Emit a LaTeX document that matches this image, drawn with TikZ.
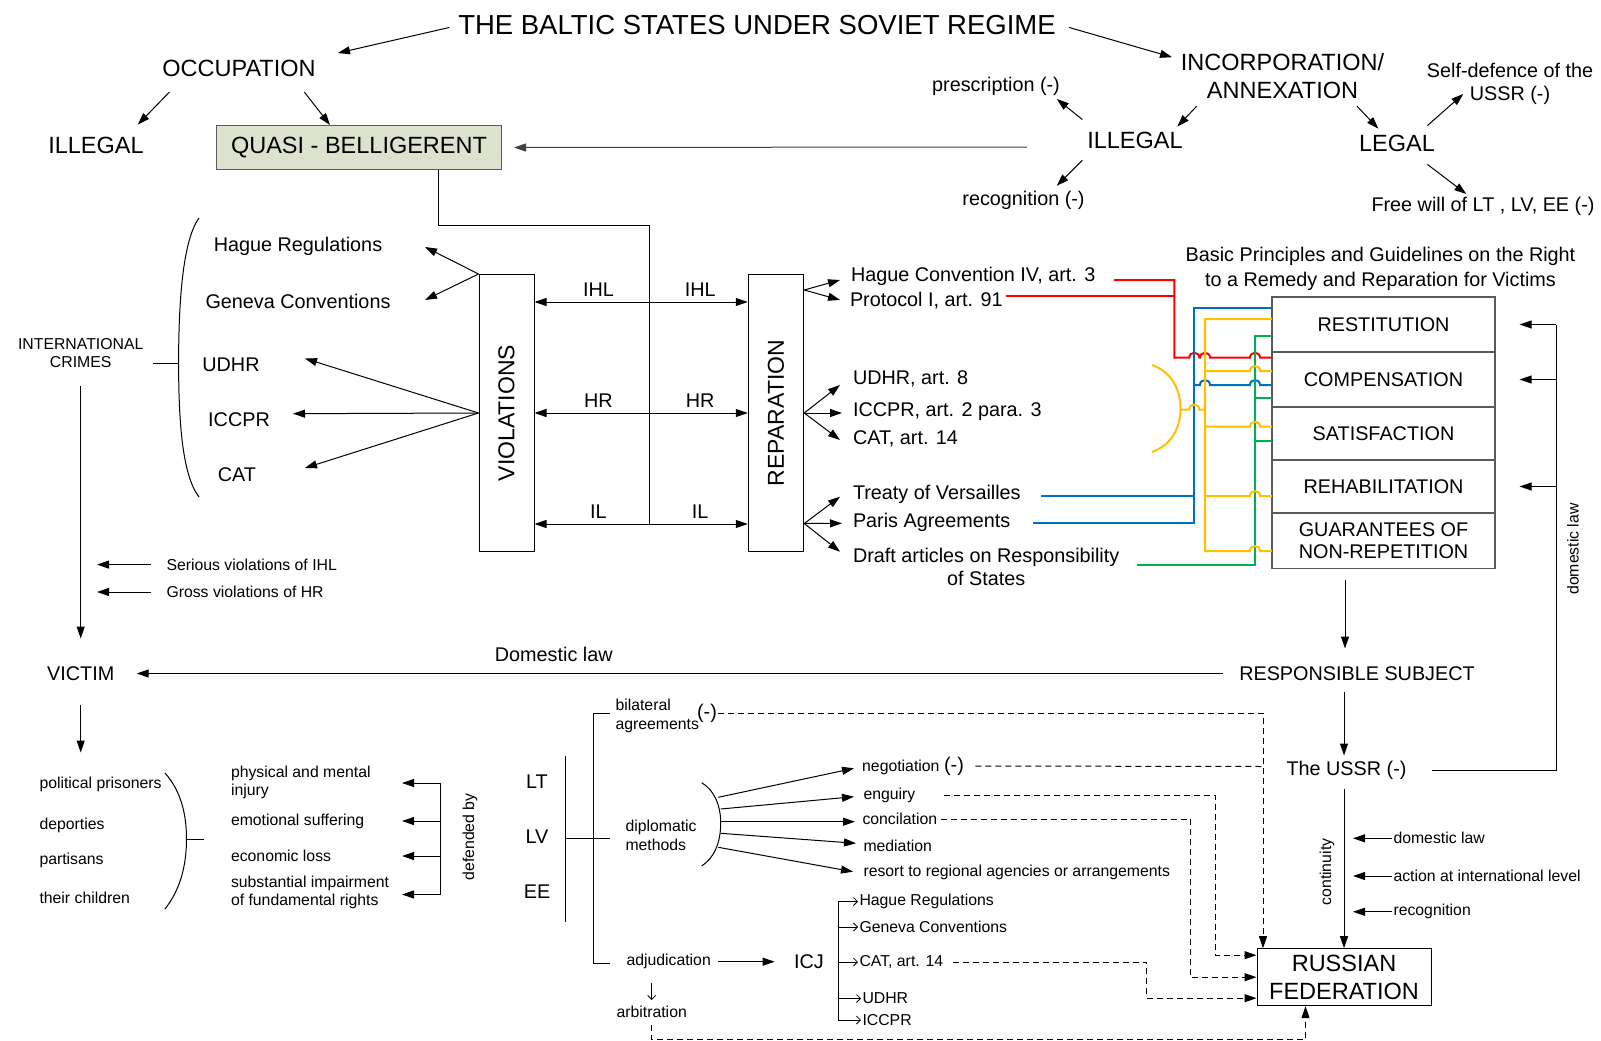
\documentclass[tikz,border=0pt]{standalone}
\usepackage{fontspec}
\setmainfont{Liberation Sans}
\usepackage{tikz}
\usetikzlibrary{arrows.meta}
\definecolor{wirered}{RGB}{255,0,0}
\definecolor{wireblue}{RGB}{0,112,192}
\definecolor{wireyellow}{RGB}{255,192,0}
\definecolor{wiregreen}{RGB}{0,176,80}
\definecolor{quasifill}{RGB}{221,226,207}
\definecolor{boxgray}{RGB}{90,90,90}
\newcommand\ftitle{\fontsize{27.5}{32}\selectfont}
\newcommand\fbig{\fontsize{23.5}{28}\selectfont}
\newcommand\fmid{\fontsize{19.8}{23}\selectfont}
\newcommand\fsml{\fontsize{15.8}{18.5}\selectfont}
% little jump of a wire over a crossing one
\newcommand\hop[2]{-- (#1-5,#2) .. controls (#1-5,#2-6.5) and (#1+5,#2-6.5) .. (#1+5,#2)}

\begin{document}
\begin{tikzpicture}[x=1pt, y=-1pt, line width=1pt,
  every node/.style={inner sep=1pt},
  bigtxt/.style={font=\fbig, align=center},
  midtxt/.style={font=\fmid, align=center},
  smltxt/.style={font=\fsml, align=left},
  arr/.style={-{Triangle[length=12pt,width=8pt]}},
  darr/.style={{Triangle[length=12pt,width=8pt]}-{Triangle[length=12pt,width=8pt]}},
  tarr/.style={-{Straight Barb[length=4pt,width=8pt]}, line width=0.8pt},
  dsh/.style={dash pattern=on 6pt off 4pt},
  wire/.style={line width=2pt},
  cell/.style={draw=boxgray, line width=1.2pt, minimum width=223pt, font=\fmid, align=center, inner sep=0pt},
  vbox/.style={draw, inner sep=0pt, minimum width=55.5pt, minimum height=277pt}
]
\fill[white] (0,0) rectangle (1601,1041);
\useasboundingbox (0,0) rectangle (1601,1041);

% top
\node[font=\ftitle] (title) at (757,25.5) {THE BALTIC STATES UNDER SOVIET REGIME};
\node[bigtxt] (occ) at (239,68) {OCCUPATION};
\node[bigtxt] (illo) at (96,145) {ILLEGAL};
\node[bigtxt, draw=boxgray, fill=quasifill, minimum width=285pt, minimum height=44pt] (quasi) at (359,147.5) {QUASI - BELLIGERENT};
\node[bigtxt] (incorp) at (1282.5,76.5) {INCORPORATION/\\ANNEXATION};
\node[bigtxt] (illi) at (1135,140.5) {ILLEGAL};
\node[bigtxt] (legal) at (1397,143) {LEGAL};
\node[midtxt] (presc) at (996,86) {prescription (-)};
\node[midtxt] (recog) at (1023.5,200) {recognition (-)};
\node[midtxt] (selfdef) at (1510,84) {Self-defence of the\\USSR (-)};
\node[midtxt] (freewill) at (1483,206) {Free will of LT , LV, EE (-)};

\draw[arr] ([shift={(-7.5,2)}]title.west) -- ([shift={(99,-15)}]occ.center);
\draw[arr] ([shift={(12,2)}]title.east) -- ([shift={(-110.5,-19.3)}]incorp.center);
\draw[arr] ([shift={(-69.5,24)}]occ.center) -- ([shift={(41.8,-20.4)}]illo.center);
\draw[arr] ([shift={(65.3,24)}]occ.center) -- ([xshift=-29pt]quasi.north);
\draw[arr] ([shift={(-85.8,29.7)}]incorp.center) -- ([shift={(42.3,-13.9)}]illi.center);
\draw[arr] ([shift={(74.5,29.7)}]incorp.center) -- ([shift={(-18.6,-14.3)}]legal.center);
\draw[arr] ([shift={(-52.7,-21)}]illi.center) -- ([shift={(60.8,13)}]presc.center);
\draw[arr] ([shift={(-52.7,19.8)}]illi.center) -- ([shift={(33.3,-14.2)}]recog.center);
\draw[arr] ([shift={(30.4,-17.4)}]legal.center) -- ([shift={(-46.8,10)}]selfdef.center);
\draw[arr] ([shift={(30.4,21.4)}]legal.center) -- ([shift={(-16.7,-12)}]freewill.center);
\draw[arr, black!75] ([shift={(-108,6.5)}]illi.center) -- ([xshift=12pt]quasi.east);

% violations and reparation
\node[vbox, minimum width=55pt] (viol) at (506.5,413) {};
\node[rotate=90, font=\fontsize{23}{26}\selectfont] (violt) at (viol) {VIOLATIONS};
\node[vbox] (rep) at (776,413) {};
\node[rotate=90, font=\fontsize{23}{26}\selectfont] (rept) at (rep) {REPARATION};

\coordinate (qbend) at (649,225);
\coordinate (qend) at (649,524);
\draw ([xshift=79pt]quasi.south) |- (qbend) -- (qend);

\draw[darr] ([yshift=111pt]viol.east) -- ([yshift=111pt]rep.west)
  node[pos=.3, above=4.5pt, midtxt] (ihl1) {IHL} node[pos=.777, above=4.5pt, midtxt] (ihl2) {IHL};
\draw[darr] (viol.east) -- (rep.west)
  node[pos=.3, above=4.5pt, midtxt] (hr1) {HR} node[pos=.777, above=4.5pt, midtxt] (hr2) {HR};
\draw[darr] ([yshift=-111pt]viol.east) -- ([yshift=-111pt]rep.west)
  node[pos=.3, above=4.5pt, midtxt] (il1) {IL} node[pos=.777, above=4.5pt, midtxt] (il2) {IL};

% left group
\node[midtxt] (hagA) at (298,246) {Hague Regulations};
\node[midtxt] (genA) at (298,301) {Geneva Conventions};
\node[midtxt] (udhrA) at (231,364.5) {UDHR};
\node[midtxt] (iccprA) at (239,419.7) {ICCPR};
\node[midtxt] (catA) at (237,475) {CAT};
\draw[arr] (viol.north west) -- ([shift={(127,1)}]hagA.center);
\draw[arr] (viol.north west) -- ([shift={(127,-1)}]genA.center);
\draw[arr] (viol.west) -- ([shift={(74,-6)}]udhrA.center);
\draw[arr] (viol.west) -- ([shift={(54,-6)}]iccprA.center);
\draw[arr] (viol.west) -- ([shift={(68,-7)}]catA.center);

\node[smltxt, align=center] (intcr) at (80.7,353) {INTERNATIONAL\\CRIMES};
\coordinate (brc) at (178.6,363);
\draw (199,218) .. controls (183,240) and (178.6,300) .. (brc) .. controls (178.6,426) and (183,476) .. (199,497);
\draw ([shift={(72,10)}]intcr.center) -- (brc);

\node[midtxt] (victim) at (80.7,673.5) {VICTIM};
\draw[arr] ([shift={(0,33)}]intcr.center) -- ([shift={(0,-35)}]victim.center);
\node[smltxt, anchor=west] (servi) at (165,564.6) {Serious violations of IHL};
\node[smltxt, anchor=west] (grovi) at (165,592) {Gross violations of HR};
\draw[arr] ([xshift=-14pt]servi.west) -- ([xshift=-68pt]servi.west);
\draw[arr] ([xshift=-14pt]grovi.west) -- ([xshift=-68pt]grovi.west);

\node[midtxt] (resp) at (1357,673.5) {RESPONSIBLE SUBJECT};
\draw[arr] ([xshift=-15pt]resp.west) -- ([xshift=21pt]victim.east)
  node[pos=.616, above=10pt, midtxt] (domlaw) {Domestic law};

% victims and harms
\node[smltxt, anchor=west] (polpr) at (38,784) {political prisoners};
\node[smltxt, anchor=west] (deport) at (38,825) {deporties};
\node[smltxt, anchor=west] (partis) at (38,860) {partisans};
\node[smltxt, anchor=west] (childr) at (38,898) {their children};
\draw[arr] ([shift={(0,31)}]victim.center) -- ([shift={(42.7,-31.5)}]polpr.west);
\coordinate (vbr) at (186.5,839);
\draw (165,773) .. controls (180,790) and (186.5,812) .. (vbr) .. controls (186.5,866) and (180,890) .. (165,909);
\draw (vbr) -- ++(17.5,0);

\node[smltxt, anchor=west] (physm) at (229.5,782.5) {physical and mental\\injury};
\node[smltxt, anchor=west] (emots) at (229.5,821) {emotional suffering};
\node[smltxt, anchor=west] (econl) at (229.5,856) {economic loss};
\node[smltxt, anchor=west] (subst) at (229.5,892.5) {substantial impairment\\of fundamental rights};
\coordinate (dtop1) at (440,783);
\coordinate (dbot1) at (440,894.5);
\draw (dtop1) -- (dbot1);
\draw[arr] (dtop1) -- ([shift={(172.5,0.5)}]physm.west);
\draw[arr] (dtop1 |- emots.west) -- ([xshift=172.5pt]emots.west);
\draw[arr] (dtop1 |- econl.west) -- ([xshift=172.5pt]econl.west);
\draw[arr] (dbot1) -- ([shift={(172.5,2)}]subst.west);
\node[smltxt, rotate=90] (defby) at (470,837) {defended by};

% states and methods
\node[midtxt] (lt) at (537,782) {LT};
\node[midtxt] (lv) at (537,837) {LV};
\node[midtxt] (ee) at (537,892) {EE};
\draw (565,755.5) -- (565,921.7);
\draw (565,838) -- (610,838);
\draw (610,713) -- (593,713) -- (593,963) -- (610,963);

\node[smltxt, anchor=west] (bilat) at (614,716) {bilateral\\agreements};
\node[midtxt] (bilm) at (707,713) {(-)};
\node[smltxt, anchor=west] (dipl) at (624,835.5) {diplomatic\\methods};
\node[smltxt, anchor=west] (adjud) at (625,961.7) {adjudication};
\node[smltxt] (arbit) at (651.7,1011.7) {arbitration};
\node[midtxt] (icj) at (809,961.7) {ICJ};
\draw[arr] ([xshift=6pt]adjud.east) -- ([xshift=-18pt]icj.west);
\draw[tarr] ([shift={(26.7,21.3)}]adjud.west) -- ([shift={(0,-11.7)}]arbit.center);

\draw (701.7,782.7) .. controls (714,790) and (720.7,805) .. (720.7,823) .. controls (720.7,843) and (714,858) .. (701.7,866);
\coordinate (dp1) at (718.3,797.3);
\coordinate (dp2) at (720.7,809);
\coordinate (dp3) at (720.7,821.7);
\coordinate (dp4) at (720.7,833.3);
\coordinate (dp5) at (718.3,847.3);
\node[smltxt, anchor=west] (negot) at (860.7,767) {negotiation};
\node[midtxt] (negm) at (954,766) {(-)};
\node[smltxt, anchor=west] (enqu) at (862,795.7) {enguiry};
\node[smltxt, anchor=west] (conci) at (861,819) {concilation};
\node[smltxt, anchor=west] (media) at (862,845.7) {mediation};
\node[smltxt, anchor=west] (resort) at (862,872.7) {resort to regional agencies or arrangements};
\draw[arr] (dp1) -- ([shift={(-6.7,1.3)}]negot.west);
\draw[arr] (dp2) -- ([shift={(-8,1)}]enqu.west);
\draw[arr] (dp3) -- ([shift={(-6,2.7)}]conci.west);
\draw[arr] (dp4) -- ([shift={(-6,-2.4)}]media.west);
\draw[arr] (dp5) -- ([shift={(-9,-1)}]resort.west);

\coordinate (icjs) at (838,901);
\node[smltxt, anchor=west] (ihag) at (858,901.6) {Hague Regulations};
\node[smltxt, anchor=west] (igen) at (858,927) {Geneva Conventions};
\node[smltxt, anchor=west] (icat) at (858,962) {CAT, art. 14};
\node[smltxt, anchor=west] (iudhr) at (861,998.6) {UDHR};
\node[smltxt, anchor=west] (iccpr) at (861,1020) {ICCPR};
\draw (icjs |- ihag.west) -- (icjs |- iccpr.west);
\draw[tarr] (icjs |- ihag.west) -- (ihag.west);
\draw[tarr] (icjs |- igen.west) -- (igen.west);
\draw[tarr] (icjs |- icat.west) -- (icat.west);
\draw[tarr] (icjs |- iudhr.west) -- (iudhr.west);
\draw[tarr] (icjs |- iccpr.west) -- (iccpr.west);

% responsible subject
\node[draw, font=\fbig, align=center, minimum width=174pt, minimum height=57pt, inner sep=0pt] (rf) at (1344,977.2) {RUSSIAN\\FEDERATION};
\node[midtxt] (ussr) at (1346.5,770.5) {The USSR (-)};
\draw[arr] ([shift={(-13,18)}]resp.center) -- ([shift={(-2.5,-15)}]ussr.center);
\draw[arr] ([shift={(-2.5,18)}]ussr.center) -- (rf.north);
\node[smltxt, rotate=90] (contin) at (1327,872) {continuity};
\node[smltxt, anchor=west] (rdlaw) at (1392,838.3) {domestic law};
\node[smltxt, anchor=west] (ractn) at (1392,876) {action at international level};
\node[smltxt, anchor=west] (rrecg) at (1392,911.8) {recognition};
\draw[arr] (rdlaw.west) -- ++(-39,0);
\draw[arr] (ractn.west) -- ++(-39,0);
\draw[arr] (rrecg.west) -- ++(-39,0);

\coordinate (negj) at (1263,766.5);
\coordinate (arbc) at (1305.5,1039.5);
\draw[dsh, arr] (bilm.east) -| ([xshift=-81pt]rf.north);
\draw[dsh] ([xshift=10pt]negm.east) -- (negj);
\draw[dsh, arr] ([xshift=27pt]enqu.east) -| ([shift={(-41,-22)}]rf.west) -- ([shift={(0,-22)}]rf.west);
\draw[dsh, arr] ([xshift=2pt]conci.east) -| ([xshift=-66pt]rf.west) -- (rf.west);
\draw[dsh, arr] ([xshift=8pt]icat.east) -| ([shift={(-110,21)}]rf.west) -- ([shift={(0,21)}]rf.west);
\draw[dsh, arr] ([yshift=-6pt]arbit.south) |- (arbc) -- ([xshift=-38.5pt]rf.south);

% remedies
\node[font=\fontsize{19.8}{25}\selectfont, align=center] (basic) at (1380.5,268.5) {Basic Principles and Guidelines on the Right\\to a Remedy and Reparation for Victims};
\node[cell, minimum height=55pt] (rest) at (1383.5,324.5) {RESTITUTION};
\node[cell, minimum height=55pt] (comp) at (1383.5,379.5) {COMPENSATION};
\node[cell, minimum height=53pt] (sat) at (1383.5,433.5) {SATISFACTION};
\node[cell, minimum height=53pt] (reh) at (1383.5,486.5) {REHABILITATION};
\node[cell, minimum height=55.5pt, font=\fontsize{19.8}{22}\selectfont] (guar) at (1383.5,540.75) {GUARANTEES OF\\NON-REPETITION};
\draw[arr] ([shift={(-38.5,11)}]guar.south) -- ([shift={(-12,-25)}]resp.center);

\coordinate (dtop) at (1556,324.5);
\draw ([xshift=24pt]ussr.east) -| (dtop);
\draw[arr] (dtop) -- ([xshift=24pt]rest.east);
\draw[arr] (dtop |- comp.east) -- ([xshift=24pt]comp.east);
\draw[arr] (dtop |- reh.east) -- ([xshift=24pt]reh.east);
\node[smltxt, rotate=90] (rdom) at (1573,549) {domestic law};

% reparation sources
\node[midtxt, anchor=west] (hcIV) at (849.5,276) {Hague Convention IV, art. 3};
\node[midtxt, anchor=west] (prot) at (848.5,301) {Protocol I, art. 91};
\node[midtxt, anchor=west] (udhrB) at (851.5,379) {UDHR, art. 8};
\node[midtxt, anchor=west] (iccprB) at (851.5,411.5) {ICCPR, art. 2 para. 3};
\node[midtxt, anchor=west] (catB) at (851.5,439) {CAT, art. 14};
\node[midtxt, anchor=west] (tvers) at (851.5,494) {Treaty of Versailles};
\node[midtxt, anchor=west] (paris) at (851.5,522.8) {Paris Agreements};
\node[midtxt, anchor=west] (draft) at (851.5,566.7) {Draft articles on Responsibility\\of States};
\draw[arr] ([yshift=123pt]rep.east) -- ([shift={(-9.5,4)}]hcIV.west);
\draw[arr] ([yshift=123pt]rep.east) -- ([shift={(-8.5,-1)}]prot.west);
\draw[arr] (rep.east) -- ([shift={(-11.5,6)}]udhrB.west);
\draw[arr] (rep.east) -- ([shift={(-9.5,1.5)}]iccprB.west);
\draw[arr] (rep.east) -- ([shift={(-11.5,1)}]catB.west);
\draw[arr] ([yshift=-110.5pt]rep.east) -- ([shift={(-11.5,2.7)}]tvers.west);
\draw[arr] ([yshift=-110.5pt]rep.east) -- ([shift={(-9.5,0.5)}]paris.west);
\draw[arr] ([yshift=-110.5pt]rep.east) -- ([shift={(-11.5,-15)}]draft.west);

% wiring to the remedies
\draw[wire, wirered] ([shift={(17,4)}]hcIV.east) -- (1174.3,280) -- (1174.3,357.7) \hop{1194.3}{357.7} \hop{1205}{357.7} \hop{1255}{357.7} -- (1272,357.7);
\draw[wire, wirered] ([shift={(1.5,-5)}]prot.east) -- (1174.3,296);
\draw[wire, wireblue] ([shift={(19,2)}]tvers.east) -- (1194.3,496);
\draw[wire, wireblue] ([shift={(21.5,0.5)}]paris.east) -- (1194.3,523.3) -- (1194.3,307.7) -- (1272,307.7);
\draw[wire, wireblue] (1194.3,385) \hop{1205}{385} \hop{1255}{385} -- (1272,385);
\draw[wire, wiregreen] ([shift={(16,-1.7)}]draft.east) -- (1255,565) -- (1255,336) -- (1272,336);
\draw[wire, wiregreen] (1255,398.3) -- (1272,398.3);
\draw[wire, wiregreen] (1255,440.7) -- (1272,440.7);
\draw[wire, wireyellow] (1272,319) -- (1205,319) -- (1205,551) \hop{1255}{551} -- (1272,551);
\draw[wire, wireyellow] (1205,371) \hop{1255}{371} -- (1272,371);
\draw[wire, wireyellow] (1205,426.7) \hop{1255}{426.7} -- (1272,426.7);
\draw[wire, wireyellow] (1205,496) \hop{1255}{496} -- (1272,496);
\draw[wire, wireyellow] (1152,365) .. controls (1172,372) and (1180.5,390) .. (1180.5,408.5) .. controls (1180.5,427) and (1172,445) .. (1152,452);
\draw[wire, wireyellow] (1180.5,409.5) \hop{1194.3}{409.5} -- (1205,409.5);
\end{tikzpicture}
\end{document}
